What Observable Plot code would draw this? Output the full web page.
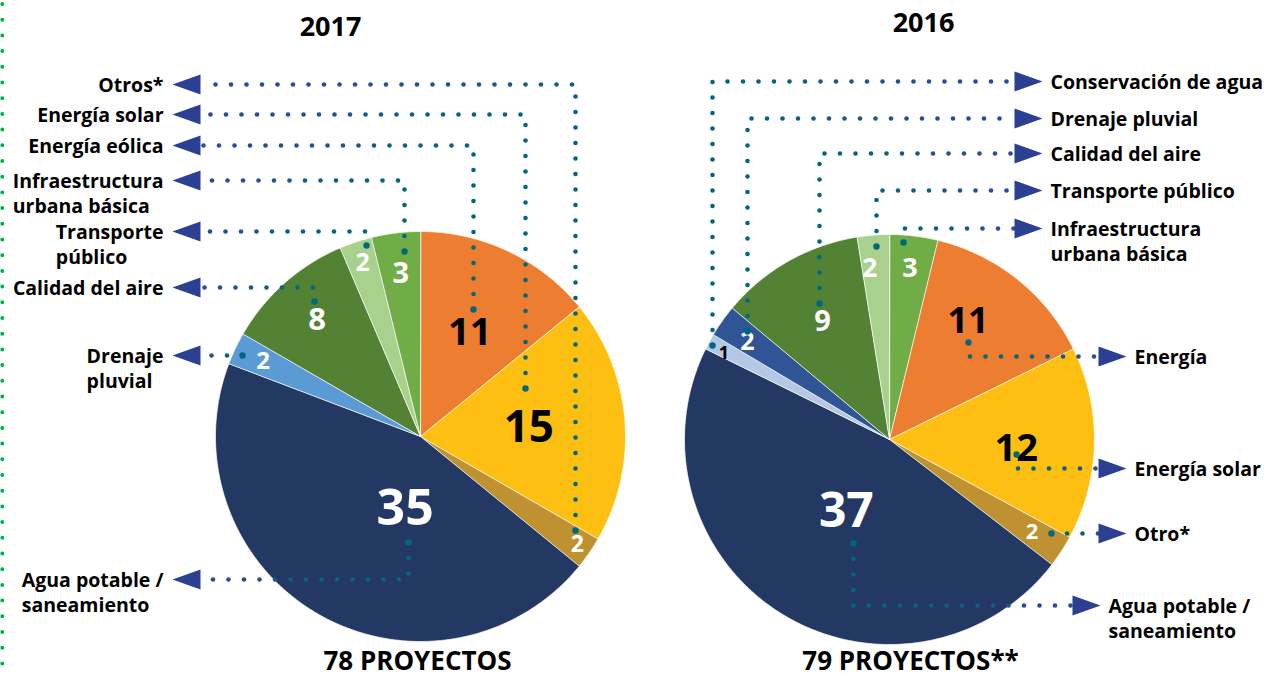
<!DOCTYPE html>
<html><head><meta charset="utf-8">
<script src="https://cdn.jsdelivr.net/npm/d3@7"></script>
<script src="https://cdn.jsdelivr.net/npm/@observablehq/plot@0.6"></script>
<style>body{margin:0;background:#fff;} svg{display:block;background:#fff;}</style>
</head><body><div id="chart"></div>
<script>
// ---------- DATA ----------
const titles = ["2017", "2016"];
const totals = ["78 PROYECTOS", "79 PROYECTOS**"];
const categories2017 = ["Energía eólica", "Energía solar", "Otros*", "Agua potable /\nsaneamiento", "Drenaje\npluvial", "Calidad del aire", "Transporte\npúblico", "Infraestructura\nurbana básica"];
const values2017 = [11, 15, 2, 35, 2, 8, 2, 3];
const categories2016 = ["Infraestructura\nurbana básica", "Energía", "Energía solar", "Otro*", "Agua potable /\nsaneamiento", "Conservación de agua", "Drenaje pluvial", "Calidad del aire", "Transporte público"];
const values2016 = [3, 11, 12, 2, 37, 1, 2, 9, 2];

// ---------- STYLE / LAYOUT ----------
const colors2017 = ["#ED7D31", "#FCBF12", "#BF9130", "#233863", "#5B9BD5", "#548235", "#A9D18E", "#70AD47"];
const colors2016 = ["#70AD47", "#ED7D31", "#FCBF12", "#BF9130", "#233863", "#B4C7E7", "#2F5597", "#548235", "#A9D18E"];
const ink2017 = ["#000", "#000", "#fff", "#fff", "#fff", "#fff", "#fff", "#fff"];
const ink2016 = ["#fff", "#000", "#000", "#fff", "#fff", "#000", "#fff", "#fff", "#fff"];
const fsize2017 = [38, 44, 23, 50, 24, 31, 25, 29];
const fsize2016 = [27, 36, 38, 22, 48, 18, 25, 29, 27];
const lrad2017 = [0.56, 0.53, 0.93, 0.36, 0.85, 0.76, 0.89, 0.80];
const lrad2016 = [0.84, 0.69, 0.62, 0.83, 0.41, 0.91, 0.84, 0.66, 0.84];
const lshift2017 = [0, 0, 0, -18, 0, 0, 0, 0];
const lshift2016 = [0, -5, 3, 0, -1, -1, -1, 0, -2];
const pie2017 = {cx: 420, cy: 436, r: 205};
const pie2016 = {cx: 889, cy: 439, r: 205};
// leader: [startX, startY, rowY, arrowBaseX]
const leader2017 = [[473,309,145,200],[525,388,114,200],[575,530,84,200],[408,542,579,200],[242,355,355,200],[314,301,287,200],[366,245,231,200],[404,251,180,200]];
const leader2016 = [[903,242,228,1014],[968,342,356,1098],[1016,454,468,1098],[1051,533,533,1098],[853,543,605,1072],[712,345,81,1014],[747,331,118,1014],[819,303,153,1014],[876,246,190,1014]];

const FONT = "'Open Sans', 'Noto Sans', sans-serif";
const LABEL_SIZE = 19.5, LINE_H = 1.25;
const ARROW_LEN = 28, ARROW_HALF = 10;
const TEAL = "#00687C", BLUE = "#2C4A9B";

const ctx = document.createElement("canvas").getContext("2d");
ctx.font = `700 ${LABEL_SIZE}px ${FONT}`;
const textW = s => Math.max(...s.split("\n").map(l => ctx.measureText(l).width));

function build(year, cats, vals, colors, ink, fs, lrad, lshift, pie, leaders, side) {
  const arcs = d3.pie().sort(null).startAngle(0).endAngle(2 * Math.PI)(vals);
  const slicePts = [], labels = [], dots = [], arrows = [], names = [];
  arcs.forEach((a, i) => {
    const id = year + "-" + i;
    slicePts.push({x: pie.cx, y: pie.cy, id, color: colors[i]});
    const n = Math.max(3, Math.ceil((a.endAngle - a.startAngle) / (Math.PI / 180)));
    for (let k = 0; k <= n; k++) {
      const ang = a.startAngle + (a.endAngle - a.startAngle) * k / n;
      slicePts.push({x: pie.cx + pie.r * Math.sin(ang), y: pie.cy - pie.r * Math.cos(ang), id, color: colors[i]});
    }
    const mid = (a.startAngle + a.endAngle) / 2 + lshift[i] * Math.PI / 180;
    labels.push({x: pie.cx + lrad[i] * pie.r * Math.sin(mid), y: pie.cy - lrad[i] * pie.r * Math.cos(mid), text: String(a.data), ink: ink[i], fs: fs[i]});

    // leader
    const [sx, sy, ry, bx] = leaders[i];
    const path = [[sx, sy], [sx, ry], [bx, ry]];
    const segs = [];
    let L = 0;
    for (let k = 1; k < path.length; k++) {
      const d = Math.hypot(path[k][0] - path[k-1][0], path[k][1] - path[k-1][1]);
      segs.push([path[k-1], path[k], L, d]); L += d;
    }
    const step = 15.5;
    for (let d = 0; d <= L + 0.1; d += step) {
      const s = segs.find(g => d <= g[2] + g[3] + 0.01) || segs[segs.length - 1];
      const f = s[3] ? (d - s[2]) / s[3] : 0;
      const t = d / L;
      dots.push({x: s[0][0] + (s[1][0] - s[0][0]) * f, y: s[0][1] + (s[1][1] - s[0][1]) * f,
        r: d === 0 ? 3.2 : 2.3, color: d3.interpolateRgb(TEAL, BLUE)(Math.max(0, (t - 0.35) / 0.65))});
    }
    const dir = side === "left" ? -1 : 1;
    const tip = bx + dir * ARROW_LEN;
    const aid = "a" + id;
    arrows.push({x: tip, y: ry, id: aid}, {x: bx, y: ry - ARROW_HALF, id: aid}, {x: bx, y: ry + ARROW_HALF, id: aid});
    const lines = cats[i].split("\n").length;
    const ly = ry + (lines - 1) * LABEL_SIZE * LINE_H / 2;
    let lx;
    if (side === "left") lx = tip - 9 - textW(cats[i]);
    else lx = tip + 8;
    names.push({x: lx, y: ly, text: cats[i]});
  });
  return {slicePts, labels, dots, arrows, names};
}

const A = build("2017", categories2017, values2017, colors2017, ink2017, fsize2017, lrad2017, lshift2017, pie2017, leader2017, "left");
const B = build("2016", categories2016, values2016, colors2016, ink2016, fsize2016, lrad2016, lshift2016, pie2016, leader2016, "right");

const headings = [
  {x: 330, y: 27, text: titles[0], fs: 27}, {x: 923, y: 23, text: titles[1], fs: 27},
  {x: 417, y: 661, text: totals[0], fs: 26}, {x: 910, y: 661, text: totals[1], fs: 26}
];

const marks = [];
for (const P of [A, B]) {
  marks.push(
    Plot.line(P.slicePts, {x: "x", y: "y", z: "id", fill: "color", stroke: "#fff", strokeWidth: 0.7, curve: "linear-closed"}),
    Plot.text(P.labels, {x: "x", y: "y", text: "text", fill: "ink", fontSize: "fs", fontWeight: 700, fontFamily: FONT}),
    Plot.dot(P.dots, {x: "x", y: "y", r: "r", fill: "color", stroke: null}),
    Plot.line(P.arrows, {x: "x", y: "y", z: "id", fill: "#2B3F93", stroke: "none", curve: "linear-closed"}),
    Plot.text(P.names, {x: "x", y: "y", text: "text", textAnchor: "start", lineHeight: LINE_H, fontSize: LABEL_SIZE, fontWeight: 700, fontFamily: FONT, fill: "#000"})
  );
}
marks.push(
  Plot.ruleX([1.8], {y1: 4, y2: 679, stroke: "#00B050", strokeWidth: 4, strokeDasharray: "0 15.7", strokeLinecap: "round"}),
  Plot.text(headings, {x: "x", y: "y", text: "text", fontSize: "fs", fontWeight: 700, fontFamily: FONT, fill: "#000"})
);

const chart = Plot.plot({
  width: 1265, height: 679, margin: 0,
  x: {domain: [0, 1265], range: [0, 1265], axis: null},
  y: {domain: [0, 679], range: [0, 679], axis: null},
  color: {type: "identity"},
  r: {type: "identity"},
  marks
});
document.getElementById("chart").appendChild(chart);
</script>
</body></html>
